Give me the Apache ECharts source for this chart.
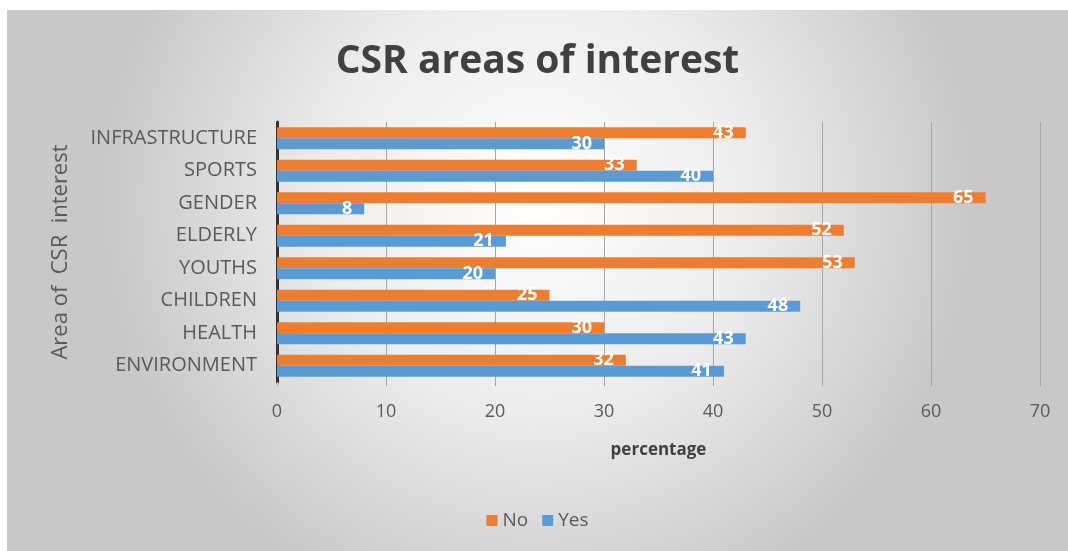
<!DOCTYPE html>
<html><head><meta charset="utf-8">
<script src="https://cdn.jsdelivr.net/npm/echarts@6/dist/echarts.min.js"></script>
<style>
html,body{margin:0;padding:0;background:#fff;width:1068px;height:551px;overflow:hidden}
#c{position:absolute;left:7px;top:10px;width:1061px;height:541px}
</style></head>
<body><div id="c"></div>
<script>
const categories = ['ENVIRONMENT','HEALTH','CHILDREN','YOUTHS','ELDERLY','GENDER','SPORTS','INFRASTRUCTURE'];
const noValues  = [32, 30, 25, 53, 52, 65, 33, 43];
const yesValues = [41, 43, 48, 20, 21, 8, 40, 30];
const seriesNames = ['No', 'Yes'];

const chart = echarts.init(document.getElementById('c'));
const font = 'Open Sans';
const lbl = {show:true, position:'insideRight', distance:12, color:'#fff', fontFamily:font, fontWeight:'bold', fontSize:18};
chart.setOption({
  backgroundColor: {type:'radial', x:0.5, y:0.35, r:0.8, colorStops:[{offset:0,color:'#ffffff'},{offset:0.5,color:'#ececec'},{offset:1,color:'#c8c8c8'}]},
  textStyle:{fontFamily:font},
  title:{text:'CSR areas of interest', left:'center', top:27, textStyle:{fontFamily:font, fontWeight:'bold', fontSize:39, color:'#404040'}},
  legend:{data:seriesNames, bottom:16, left:'center', itemWidth:11, itemHeight:11, itemGap:14, icon:'rect', textStyle:{fontFamily:font, fontSize:19, color:'#595959'}},
  grid:{left:270, right:28, top:112, bottom:169},
  xAxis:{type:'value', min:0, max:70, interval:10,
    name:'percentage', nameLocation:'middle', nameGap:60,
    nameTextStyle:{fontFamily:font, fontWeight:'bold', fontSize:17, color:'#404040'},
    axisLine:{show:false}, axisTick:{show:true, length:4, lineStyle:{color:'#a0a0a0'}},
    axisLabel:{fontFamily:font, fontSize:18, color:'#595959', margin:21},
    splitLine:{show:true, lineStyle:{color:'#a6a6a6', width:1}}},
  yAxis:{type:'category', data:categories,
    name:'Area of  CSR  interest', nameLocation:'middle', nameGap:205, nameRotate:90,
    nameTextStyle:{fontFamily:font, fontSize:22, color:'#595959'},
    axisLine:{show:true, lineStyle:{color:'#333', width:3}}, axisTick:{show:false},
    axisLabel:{fontFamily:font, fontSize:20, color:'#595959', margin:20}},
  series:[
    {name:'No', type:'bar', data:noValues, itemStyle:{color:'#ED7D31'}, barGap:'0%', barCategoryGap:'32%', label:lbl},
    {name:'Yes', type:'bar', data:yesValues, itemStyle:{color:'#5B9BD5'}, barGap:'0%', barCategoryGap:'32%', label:lbl}
  ]
});
</script></body></html>
